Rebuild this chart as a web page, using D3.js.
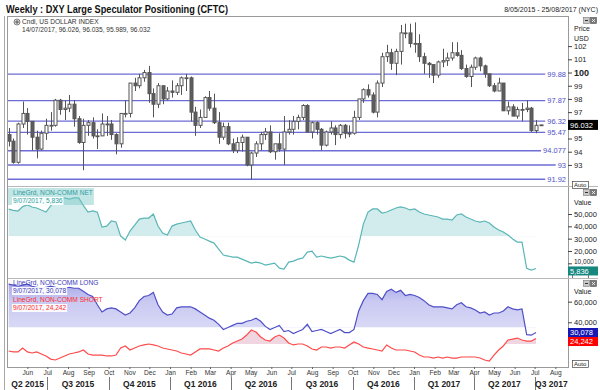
<!DOCTYPE html>
<html>
<head>
<meta charset="utf-8">
<script src="https://cdn.jsdelivr.net/npm/d3@7"></script>
<style>
body { margin: 0; background: #fff; }
svg { display: block; font-family: "Liberation Sans", Arial, sans-serif; }
</style>
</head>
<body>
<svg id="chart" width="600" height="390"></svg>
<script>
// weekly DXY candles, one per week (week starting monday 4 May 2015 .. 10 Jul 2017)
var openPx = [95.3,94.8,93.2,96.1,96.9,96.3,95.1,94.2,95.4,96.0,
  96.0,97.9,97.2,97.3,97.6,96.5,94.7,96.0,96.2,95.2,
  95.2,96.1,96.1,95.3,94.6,96.9,96.9,99.2,99.0,99.6,
  100.0,98.4,97.6,99.0,98.0,98.6,98.5,99.0,99.6,99.6,
  97.0,96.0,96.6,98.1,97.3,96.2,95.1,95.9,94.6,94.1,
  94.7,95.1,93.0,93.9,94.6,95.3,95.5,94.0,94.6,94.2,
  95.5,95.7,96.3,96.6,97.5,95.5,96.2,95.7,94.5,95.5,
  95.8,95.3,96.0,95.4,95.4,96.6,98.0,98.7,98.3,97.0,
  99.2,101.2,101.5,100.7,101.6,103.0,103.0,102.2,102.2,101.2,
  100.7,100.6,99.8,100.8,100.9,101.1,101.5,101.3,100.3,99.7,
  100.4,101.1,100.5,99.9,99.0,98.6,99.2,97.1,97.4,96.7,
  97.2,97.2,97.3,95.6,96.026];
var highPx = [95.8,95.0,96.2,97.8,97.3,96.3,95.6,95.6,96.5,97.0,
  98.0,98.0,97.9,98.3,97.9,96.7,96.5,96.4,96.6,95.7,
  96.9,96.7,96.4,95.4,96.9,97.9,99.2,99.6,99.9,100.2,
  100.5,98.8,99.2,99.0,98.9,99.4,99.2,99.7,99.9,99.7,
  97.4,97.2,98.2,98.6,98.4,97.0,96.2,96.2,95.0,95.1,
  95.3,95.1,94.0,94.8,95.5,95.8,96.0,94.6,95.4,96.7,
  96.4,96.7,96.8,97.6,97.6,96.3,96.3,95.8,95.6,96.3,
  96.0,96.1,96.1,96.0,97.1,98.0,98.8,99.1,98.5,99.4,
  101.5,102.1,101.8,101.8,103.6,103.7,103.7,103.8,102.9,101.5,
  100.8,100.6,100.9,101.8,101.5,102.3,102.3,101.7,100.6,100.6,
  101.2,101.2,100.6,99.9,99.2,99.6,99.2,97.8,97.6,97.4,
  97.7,97.9,97.4,96.4,96.035];
var lowPx = [94.4,93.1,93.1,95.8,95.3,94.1,93.5,94.1,94.9,95.6,
  95.9,96.8,96.4,97.0,95.9,94.6,92.6,95.2,95.0,94.2,
  95.2,95.2,94.9,93.8,94.3,96.6,96.6,98.6,98.8,99.3,
  97.7,96.6,97.3,97.6,97.9,98.1,98.3,98.3,98.6,96.3,
  95.2,95.8,96.6,97.1,96.1,94.6,94.9,94.5,93.9,93.9,
  94.0,92.9,91.9,93.6,94.1,94.9,93.9,93.4,94.0,93.0,
  95.3,95.3,95.7,96.4,95.5,95.0,95.3,94.1,94.4,95.3,
  94.5,95.0,95.0,95.1,95.3,96.4,97.7,98.1,96.9,96.6,
  98.9,100.8,100.2,99.8,100.6,102.6,101.9,101.5,100.8,99.9,
  99.6,99.2,99.6,100.4,100.5,100.9,101.2,100.2,99.6,98.9,
  100.2,100.1,99.6,98.9,98.5,98.6,97.1,96.8,96.7,96.5,
  96.3,97.0,95.5,95.4,95.989];
var closePx = [94.8,93.2,96.1,96.9,96.3,95.1,94.2,95.4,96.0,96.0,
  97.9,97.2,97.3,97.6,96.5,94.7,96.0,96.2,95.2,95.2,
  96.1,96.1,95.3,94.6,96.9,96.9,99.2,99.0,99.6,100.0,
  98.4,97.6,99.0,98.0,98.6,98.5,99.0,99.6,99.6,97.0,
  96.0,96.6,98.1,97.3,96.2,95.1,95.9,94.6,94.1,94.7,
  95.1,93.0,93.9,94.6,95.3,95.5,94.0,94.6,94.2,95.5,
  95.7,96.3,96.6,97.5,95.5,96.2,95.7,94.5,95.5,95.8,
  95.3,96.0,95.4,95.4,96.6,98.0,98.7,98.3,97.0,99.2,
  101.2,101.5,100.7,101.6,103.0,103.0,102.2,102.2,101.2,100.7,
  100.6,99.8,100.8,100.9,101.1,101.5,101.3,100.3,99.7,100.4,
  101.1,100.5,99.9,99.0,98.6,99.2,97.1,97.4,96.7,97.2,
  97.2,97.3,95.6,96.0,96.032];

// CFTC non-commercial positions, weekly (4 May 2015 .. 3 Jul 2017)
var netPos = [54000,53000,52400,56000,57300,55700,54900,53200,51600,56500,
  62200,63000,63000,62000,63000,63000,57000,51600,52500,51500,
  39400,40200,44300,43500,32100,28900,36200,41000,45900,46700,
  46700,50000,40200,34500,32900,40200,41800,42700,43500,44300,
  37000,31300,29700,28000,26400,21500,16700,15900,15000,15000,
  13400,11800,10200,11000,10200,8500,9300,10200,6100,5300,
  11000,11800,13400,14200,19100,19900,15000,15900,15000,14200,
  15000,15900,15000,12600,11000,24800,41800,51600,54100,54100,
  50800,51600,53300,54900,55700,54900,53300,54100,51600,50000,
  49200,48400,47600,45900,45900,45100,49200,50000,47600,45900,
  44300,43500,44300,42700,39400,37000,35400,32900,29700,27200,
  27200,6000,4500,5836];
var longPos = [77000,76000,75000,76000,77000,75000,74000,73000,74000,75000,
  74000,73000,73000,74000,73000,73000,70000,67000,65000,57000,
  50000,53000,54000,53000,50000,47000,49000,54000,61000,65000,
  66000,69000,57000,50000,47000,48000,54000,55000,55000,55000,
  53000,50000,47000,44000,42000,38000,33000,35000,37000,39000,
  39000,41000,42000,44000,41000,36000,33000,35000,37000,31000,
  32000,29000,31000,33000,38000,31000,32000,33000,31000,29000,
  31000,33000,30000,30000,33000,51000,61000,68000,68000,67000,
  62000,70000,72000,69000,71000,66000,67000,66000,64000,61000,
  57000,55000,55000,55000,54000,53000,57000,59000,55000,54000,
  52000,49000,50000,47000,49000,49000,51000,55000,53000,52000,
  53000,28000,27500,30078];
var shortPos = [12100,11200,11200,15000,11200,10200,11200,9200,7300,4300,
  3400,5300,7300,9200,10200,11200,13100,9200,8200,8200,
  8200,7300,7300,8200,15000,17000,13100,15000,17000,18000,
  18900,18000,17000,15000,14100,13100,12100,10200,9200,8200,
  11200,14100,14100,14100,13100,12100,15000,17000,19900,21800,
  23700,27600,32500,30500,25700,22800,21800,25700,27600,24700,
  19900,18000,18900,18900,17000,14100,13100,16000,16000,15000,
  16000,16000,15000,18000,20900,18900,16000,15000,14100,13100,
  12100,18000,15000,13100,13100,13100,12100,11200,8200,6300,
  6300,5300,6300,5300,6300,5300,5300,6300,6300,6300,
  6300,5300,3400,2400,8200,13100,17000,22800,23700,24700,
  22800,21800,21800,24242];

// fill baselines of the LineGrd studies
var netBase = 32000, longBase = 35000, shortBase = 19000;

var levels = [99.88, 97.87, 96.32, 95.47, 94.077, 93, 91.92];
var levelLabels = ["99.88", "97.87", "96.32", "95.47", "94.077", "93", "91.92"];
var priceTicks = [102, 101, 100, 99, 98, 97, 95, 94, 93];
var netTicks = [50000, 40000, 30000, 20000, 10000];
var posTicks = [60000, 40000];

var monthLabels = ["Jun","Jul","Aug","Sep","Oct","Nov","Dec","Jan","Feb","Mar","Apr","May",
  "Jun","Jul","Aug","Sep","Oct","Nov","Dec","Jan","Feb","Mar","Apr","May","Jun","Jul","Aug"];
var quarterLabels = ["Q2 2015","Q3 2015","Q4 2015","Q1 2016","Q2 2016","Q3 2016",
  "Q4 2016","Q1 2017","Q2 2017","Q3 2017"];
var quarterStarts = ["2015-04-01","2015-07-01","2015-10-01","2016-01-01","2016-04-01",
  "2016-07-01","2016-10-01","2017-01-01","2017-04-01","2017-07-01"];

var lastPrice = 96.032;

var svg = d3.select("#chart");
var parse = d3.timeParse("%Y-%m-%d");

var x = d3.scaleTime()
  .domain([new Date(2015, 4, 3), new Date(2017, 7, 20)])
  .range([8, 568]);
var yPrice = d3.scaleLinear().domain([91.48, 104.13]).range([185, 18]);
var yNet = d3.scaleLinear().domain([-1100, 71900]).range([277, 187]);
var yPos = d3.scaleLinear().domain([-3400, 82000]).range([367, 279]);

var weeks = d3.timeMonday.range(new Date(2015, 4, 4), new Date(2017, 6, 11));

var defs = svg.append("defs");
function clip(id, y0, y1) {
  defs.append("clipPath").attr("id", id).append("rect")
    .attr("x", 8).attr("y", y0).attr("width", 560).attr("height", y1 - y0);
}
clip("clipTop", 17, 185);
clip("clipMid", 187, 277);
clip("clipBot", 279, 367);
clip("clipNetFill", 187, yNet(netBase));
clip("clipLongFill", 279, yPos(longBase));
clip("clipShortFill", 279, yPos(shortBase));
defs.append("clipPath").attr("id", "clipAuto").append("rect")
  .attr("x", 570).attr("y", 274).attr("width", 20).attr("height", 4);

var g1 = defs.append("linearGradient").attr("id", "gLong")
  .attr("gradientUnits", "userSpaceOnUse").attr("x1", 0).attr("x2", 0)
  .attr("y1", 281).attr("y2", yPos(longBase));
g1.append("stop").attr("offset", 0).attr("stop-color", "#a4a4e8");
g1.append("stop").attr("offset", 0.45).attr("stop-color", "#cacaf2");
g1.append("stop").attr("offset", 1).attr("stop-color", "#d8d8f6");

// title and date range
svg.append("text").attr("x", 6).attr("y", 13)
  .attr("font-size", 11).attr("font-weight", "bold").attr("fill", "#111")
  .attr("textLength", 222).attr("lengthAdjust", "spacingAndGlyphs")
  .text("Weekly : DXY Large Speculator Positioning (CFTC)");
svg.append("text").attr("x", 598).attr("y", 12).attr("text-anchor", "end")
  .attr("font-size", 7).attr("fill", "#222")
  .text("8/05/2015 - 25/08/2017 (NYC)");

// frame
svg.append("line").attr("x1", 4.5).attr("x2", 4.5).attr("y1", 16).attr("y2", 390).attr("stroke", "#a8a8a8");
svg.append("rect").attr("x", 7.5).attr("y", 16.5).attr("width", 561).attr("height", 351)
  .attr("fill", "none").attr("stroke", "#9a9a9a");
[186.5, 278.5].forEach(function(yy) {
  svg.append("line").attr("x1", 8).attr("x2", 598).attr("y1", yy).attr("y2", yy).attr("stroke", "#b8b8b8");
});

// ---------- price panel ----------
var lv = svg.append("g");
levels.forEach(function(p, i) {
  var t = lv.append("text").attr("x", 566).attr("y", yPrice(p)).attr("dy", "0.35em")
    .attr("text-anchor", "end").attr("font-size", 7.5).attr("fill", "#5050c8")
    .text(levelLabels[i]);
  var w = t.node().getComputedTextLength();
  lv.insert("line", "text").attr("x1", 8).attr("x2", 566 - w - 2)
    .attr("y1", yPrice(p)).attr("y2", yPrice(p))
    .attr("stroke", "#6c6cd6").attr("stroke-width", 1.4);
});

var candles = weeks.map(function(d, i) {
  return { date: d, o: openPx[i], h: highPx[i], l: lowPx[i], c: closePx[i] };
});
var cg = svg.append("g").attr("clip-path", "url(#clipTop)");
cg.selectAll(".wick").data(candles).enter().append("line")
  .attr("class", "wick")
  .attr("x1", function(d) { return Math.round(x(d.date)) + 0.5; })
  .attr("x2", function(d) { return Math.round(x(d.date)) + 0.5; })
  .attr("y1", function(d) { return yPrice(d.h); })
  .attr("y2", function(d) { return yPrice(d.l); })
  .attr("stroke", "#555");
cg.selectAll(".body").data(candles).enter().append("rect")
  .attr("class", "body")
  .attr("x", function(d) { return Math.round(x(d.date)) - 1; })
  .attr("width", 3)
  .attr("y", function(d) { return yPrice(Math.max(d.o, d.c)); })
  .attr("height", function(d) { return Math.max(0.8, Math.abs(yPrice(d.o) - yPrice(d.c))); })
  .attr("fill", function(d) { return d.c >= d.o ? "#fff" : "#5e5e5e"; })
  .attr("stroke", "#555").attr("stroke-width", 1);

// price axis
var pAxis = svg.append("g").attr("transform", "translate(568,0)")
  .call(d3.axisRight(yPrice).tickValues(priceTicks).tickSize(4).tickPadding(2));
pAxis.select(".domain").remove();
pAxis.selectAll("line").attr("stroke", "#444");
pAxis.selectAll("text").attr("font-size", 7.5).attr("fill", "#222")
  .attr("font-family", "Liberation Sans, Arial, sans-serif");
pAxis.selectAll(".tick").filter(function(d) { return d === 100; })
  .select("text").attr("font-weight", "bold").attr("font-size", 9);
svg.append("text").attr("x", 574).attr("y", 31).attr("font-size", 7).attr("fill", "#222").text("Price");
svg.append("text").attr("x", 574).attr("y", 41).attr("font-size", 7).attr("fill", "#222").text("USD");

svg.append("rect").attr("x", 568).attr("y", yPrice(lastPrice) - 5).attr("width", 30).attr("height", 10).attr("fill", "#000");
svg.append("text").attr("x", 570).attr("y", yPrice(lastPrice) + 3).attr("font-size", 7.5)
  .attr("fill", "#fff").text("96.032");

// legend of price panel
var icon = svg.append("g").attr("transform", "translate(17,22)");
icon.append("circle").attr("r", 3).attr("fill", "#ddd").attr("stroke", "#666").attr("stroke-width", 0.8);
icon.append("path").attr("d", "M-2,0H2M0,-2V2").attr("stroke", "#444").attr("stroke-width", 0.8);
svg.append("text").attr("x", 22).attr("y", 24).attr("font-size", 6.6).attr("fill", "#333")
  .text("Cndl, US DOLLAR INDEX");
svg.append("text").attr("x", 22).attr("y", 32).attr("font-size", 6.6).attr("fill", "#333")
  .text("14/07/2017, 96.026, 96.035, 95.989, 96.032");

// ---------- net panel ----------
var netData = netPos.map(function(v, i) { return { date: weeks[i], v: v }; });
var netArea = d3.area().x(function(d) { return x(d.date); })
  .y0(yNet(netBase)).y1(function(d) { return yNet(d.v); });
var netLine = d3.line().x(function(d) { return x(d.date); }).y(function(d) { return yNet(d.v); });
svg.append("path").datum(netData).attr("d", netArea)
  .attr("fill", "#d2ebec").attr("clip-path", "url(#clipNetFill)");
svg.append("path").datum(netData).attr("d", netLine)
  .attr("fill", "none").attr("stroke", "#5ab6b6").attr("stroke-width", 1.2)
  .attr("clip-path", "url(#clipMid)");

// ---------- long / short panel ----------
var longData = longPos.map(function(v, i) { return { date: weeks[i], v: v }; });
var shortData = shortPos.map(function(v, i) { return { date: weeks[i], v: v }; });
function posArea(base) {
  return d3.area().x(function(d) { return x(d.date); })
    .y0(yPos(base)).y1(function(d) { return yPos(d.v); });
}
var posLine = d3.line().x(function(d) { return x(d.date); }).y(function(d) { return yPos(d.v); });
svg.append("path").datum(longData).attr("d", posArea(longBase))
  .attr("fill", "url(#gLong)").attr("clip-path", "url(#clipLongFill)");
svg.append("path").datum(shortData).attr("d", posArea(shortBase))
  .attr("fill", "#efd6e0").attr("clip-path", "url(#clipShortFill)");
svg.append("path").datum(longData).attr("d", posLine)
  .attr("fill", "none").attr("stroke", "#4f4fc8").attr("stroke-width", 1.2)
  .attr("clip-path", "url(#clipBot)");
svg.append("path").datum(shortData).attr("d", posLine)
  .attr("fill", "none").attr("stroke", "#ff4a4a").attr("stroke-width", 1.2)
  .attr("clip-path", "url(#clipBot)");

// study legends
function legend(y, title, value, color, tint) {
  var g = svg.append("g");
  var t1 = g.append("text").attr("x", 13).attr("y", y).attr("font-size", 6.6).attr("fill", color).text(title);
  var w1 = t1.node().getComputedTextLength();
  if (tint) {
    g.insert("rect", "text").attr("x", 8).attr("y", y - 7).attr("width", w1 + 6).attr("height", 17)
      .attr("fill", tint);
  }
  var t2 = g.append("text").attr("x", 13).attr("y", y + 8).attr("font-size", 6.6).attr("fill", color).text(value);
  var w2 = t2.node().getComputedTextLength();
  g.insert("rect", "text").attr("x", 12).attr("y", y + 2).attr("width", w2 + 2).attr("height", 8)
    .attr("fill", "#fff").attr("opacity", 0.9);
}
legend(195, "LineGrd, NON-COMM NET", "9/07/2017, 5,836", "#2f9d9d", "rgba(120,200,200,0.45)");
legend(285, "LineGrd, NON-COMM LONG", "9/07/2017, 30,078", "#3a3ab8", null);
legend(302, "LineGrd, NON-COMM SHORT", "9/07/2017, 24,242", "#ff2a2a", null);

// value axes
function valueAxis(scale, ticks) {
  var a = svg.append("g").attr("transform", "translate(568,0)")
    .call(d3.axisRight(scale).tickValues(ticks).tickSize(4).tickPadding(2).tickFormat(d3.format(",")));
  a.select(".domain").remove();
  a.selectAll("line").attr("stroke", "#444");
  a.selectAll("text").attr("font-size", 7.5).attr("fill", "#222")
    .attr("font-family", "Liberation Sans, Arial, sans-serif");
  return a;
}
var netAx = valueAxis(yNet, netTicks);
netAx.selectAll(".tick").filter(function(d) { return d === 10000; })
  .select("text").attr("font-size", 6.5).attr("dy", "0.1em");
valueAxis(yPos, posTicks);
svg.append("text").attr("x", 574).attr("y", 205).attr("font-size", 7).attr("fill", "#222").text("Value");
svg.append("text").attr("x", 574).attr("y", 294).attr("font-size", 7).attr("fill", "#222").text("Value");

// panel buttons
[17, 189, 280].forEach(function(yy) {
  svg.append("rect").attr("x", 583.5).attr("y", yy + 0.5).attr("width", 6).attr("height", 6)
    .attr("fill", "#c8c8c8").attr("stroke", "#777").attr("stroke-width", 0.6);
  svg.append("line").attr("x1", 585).attr("x2", 588).attr("y1", yy + 3.5).attr("y2", yy + 3.5).attr("stroke", "#333");
  svg.append("rect").attr("x", 590.5).attr("y", yy + 0.5).attr("width", 6).attr("height", 6)
    .attr("fill", "#777").attr("stroke", "#555").attr("stroke-width", 0.6);
  svg.append("path").attr("d", "M" + 592 + "," + (yy + 2) + "l3,3m0,-3l-3,3").attr("stroke", "#fff").attr("stroke-width", 0.8);
});

// auto buttons
[181, 360].forEach(function(yy) {
  svg.append("rect").attr("x", 572.5).attr("y", yy + 0.5).attr("width", 16).attr("height", 7)
    .attr("fill", "#fff").attr("stroke", "#444").attr("stroke-width", 0.7);
  svg.append("text").attr("x", 574).attr("y", yy + 6).attr("font-size", 6).attr("fill", "#222").text("Auto");
});
// the middle panel's auto button mostly sits under the net value box
svg.append("rect").attr("x", 572.5).attr("y", 274.5).attr("width", 16).attr("height", 6)
  .attr("fill", "#fff").attr("stroke", "#444").attr("stroke-width", 0.7)
  .attr("clip-path", "url(#clipAuto)");

// last value boxes
function valueBox(yc, txt, color) {
  svg.append("rect").attr("x", 568).attr("y", yc - 4.5).attr("width", 30).attr("height", 9).attr("fill", color);
  svg.append("text").attr("x", 570).attr("y", yc + 2.8).attr("font-size", 7.5).attr("fill", "#fff").text(txt);
}
valueBox(yNet(5836) + 2.5, "5,836", "#15877f");
valueBox(yPos(30078), "30,078", "#1717b4");
valueBox(yPos(24242) + 3, "24,242", "#ff0000");

// time axis
var monthStarts = d3.timeMonth.range(new Date(2015, 5, 1), new Date(2017, 8, 1));
var tAxis = svg.append("g").attr("transform", "translate(0,367)")
  .call(d3.axisBottom(x).tickValues(monthStarts).tickSize(2).tickPadding(1)
    .tickFormat(function(d, i) { return monthLabels[i]; }));
tAxis.select(".domain").remove();
tAxis.selectAll("line").attr("stroke", "#666");
tAxis.selectAll("text").attr("font-size", 6.6).attr("fill", "#333")
  .attr("font-family", "Liberation Sans, Arial, sans-serif");

var qDates = quarterStarts.map(parse);
var xEnd = x.domain()[1];
qDates.forEach(function(d, i) {
  var a = d < x.domain()[0] ? x.domain()[0] : d;
  var b = i < qDates.length - 1 ? qDates[i + 1] : xEnd;
  if (b > xEnd) b = xEnd;
  if (i > 0) {
    svg.append("line").attr("x1", Math.round(x(d)) + 0.5).attr("x2", Math.round(x(d)) + 0.5)
      .attr("y1", 377).attr("y2", 390).attr("stroke", "#777");
  }
  svg.append("text").attr("x", (x(a) + x(b)) / 2).attr("y", 387).attr("text-anchor", "middle")
    .attr("font-size", 8.5).attr("font-weight", "bold").attr("fill", "#222")
    .text(quarterLabels[i]);
});
</script>
</body>
</html>
